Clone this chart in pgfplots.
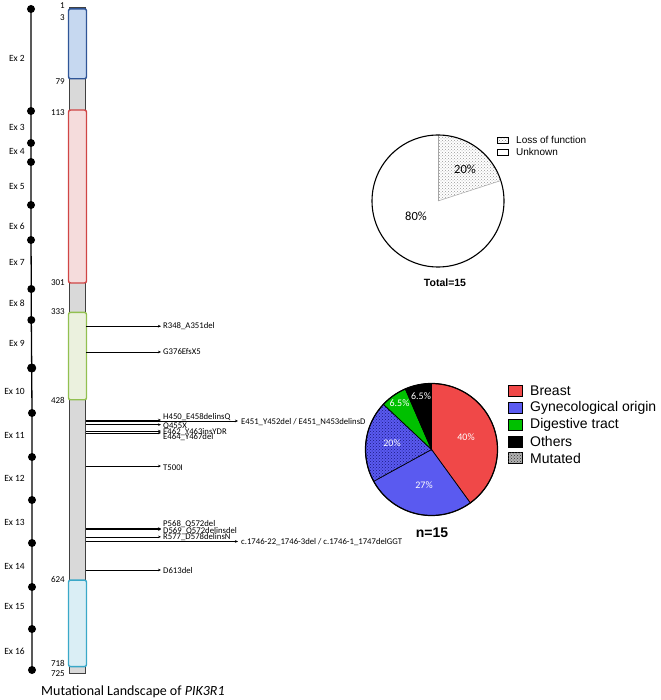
\documentclass[border=0pt]{standalone}
\usepackage{pgfplots}
\pgfplotsset{compat=1.18}
\usepackage{pgfplotstable}
\usepackage{fontspec}
\setmainfont{Carlito}
\newfontfamily\arial{Liberation Sans}
\usetikzlibrary{patterns,arrows.meta}

\definecolor{barfill}{HTML}{D9D9D9}
\definecolor{barline}{HTML}{404040}
\definecolor{dAfill}{HTML}{C6D8F0}
\definecolor{dAline}{HTML}{2F5597}
\definecolor{dBfill}{HTML}{F5DCDC}
\definecolor{dBline}{HTML}{D04545}
\definecolor{dCfill}{HTML}{EBF1DE}
\definecolor{dCline}{HTML}{92C050}
\definecolor{dDfill}{HTML}{DAEEF5}
\definecolor{dDline}{HTML}{3AA8C8}
\definecolor{pieRed}{HTML}{F04848}
\definecolor{pieBlue}{HTML}{5A5AF0}
\definecolor{pieGreen}{HTML}{00C000}
\definecolor{dotBlue}{HTML}{1A1A80}

% exon boundaries (x, y in picture units)
\pgfplotstableread{
x y
31 9
31 111
31 143
31 162
31 205
31 240
31.3 289
31.3 320
31.7 368
32 413
32 457
32 500
32 543
32 587
32 629
32 670
}\exondots

% mutations: amino-acid position, arrow length
\pgfplotstableread{
pos len
348 75
376 75
450 75
451 152
455 75
462 75
464 75
500 75
568 75
569 75
577 75
582 152
613 75
}\mutations

\begin{document}
\begin{tikzpicture}
\path[use as bounding box] (0,0) rectangle (660pt,700pt);

% ---------- protein (amino-acid scale) ----------
\begin{axis}[at={(0,0)},anchor=south west,width=660pt,height=700pt,
  scale only axis,hide axis,xmin=0,xmax=660,ymin=-6.61,ymax=754.35,
  y dir=reverse,clip=false]
\addplot[draw=barline,fill=barfill,line width=0.8pt] coordinates {(69.3,1) (85.7,1) (85.7,725) (69.3,725)} -- cycle;
\addplot[draw=dAline,fill=dAfill,line width=1.4pt,rounded corners=2pt] coordinates {(68.5,3) (86.5,3) (86.5,79) (68.5,79)} -- cycle;
\addplot[draw=dBline,fill=dBfill,line width=1.4pt,rounded corners=2pt] coordinates {(68.5,113) (86.5,113) (86.5,301) (68.5,301)} -- cycle;
\addplot[draw=dCline,fill=dCfill,line width=1.4pt,rounded corners=2pt] coordinates {(68.5,333) (86.5,333) (86.5,428) (68.5,428)} -- cycle;
\addplot[draw=dDline,fill=dDfill,line width=1.4pt,rounded corners=2pt] coordinates {(68.5,624) (86.5,624) (86.5,718) (68.5,718)} -- cycle;
\addplot[quiver={u=\thisrow{len},v=0},-{Stealth[length=3pt,width=2.6pt]},line width=0.7pt,black]
  table[x expr=86,y=pos] {\mutations};
\end{axis}

% ---------- everything else (picture units) ----------
\begin{axis}[at={(0,0)},anchor=south west,width=660pt,height=700pt,
  scale only axis,hide axis,xmin=0,xmax=660,ymin=0,ymax=700,
  y dir=reverse,clip=false]
\addplot[black,line width=1.3pt,mark=*,mark size=3.3pt] table {\exondots};
\addplot[black,only marks,mark=*,mark size=4.3pt] coordinates {(31.7,368)};

% exon labels
\begin{scope}[every node/.style={anchor=east,inner sep=0pt,font=\fontsize{9.5}{10}\selectfont}]
\node at (axis cs:25,58) {Ex 2};
\node at (axis cs:25,127) {Ex 3};
\node at (axis cs:25,151) {Ex 4};
\node at (axis cs:25,186) {Ex 5};
\node at (axis cs:25,226) {Ex 6};
\node at (axis cs:25,262) {Ex 7};
\node at (axis cs:25,303) {Ex 8};
\node at (axis cs:25,343) {Ex 9};
\node at (axis cs:25,391) {Ex 10};
\node at (axis cs:25,435) {Ex 11};
\node at (axis cs:25,478) {Ex 12};
\node at (axis cs:25,522) {Ex 13};
\node at (axis cs:25,566) {Ex 14};
\node at (axis cs:25,606) {Ex 15};
\node at (axis cs:25,651) {Ex 16};
\end{scope}

% residue numbers
\begin{scope}[every node/.style={anchor=east,inner sep=0pt,font=\fontsize{9}{10}\selectfont}]
\node at (axis cs:65,6) {1};
\node at (axis cs:65,18) {3};
\node at (axis cs:65,82) {79};
\node at (axis cs:65,113) {113};
\node at (axis cs:65,283) {301};
\node at (axis cs:65,312) {333};
\node at (axis cs:65,400) {428};
\node at (axis cs:65,579) {624};
\node at (axis cs:65,663) {718};
\node at (axis cs:65,674) {725};
\end{scope}

% mutation labels
\begin{scope}[every node/.style={anchor=west,inner sep=0pt,font=\fontsize{8.7}{9}\selectfont}]
\node at (axis cs:163,326) {R348\_A351del};
\node at (axis cs:163,352) {G376EfsX5};
\node at (axis cs:163,416.7) {H450\_E458delinsQ};
\node at (axis cs:241,422) {E451\_Y452del / E451\_N453delinsD};
\node at (axis cs:163,426) {Q455X};
\node at (axis cs:163,432) {E462\_Y463insYDR};
\node at (axis cs:163,437.3) {E464\_Y467del};
\node at (axis cs:163,468) {T500I};
\node at (axis cs:163,524) {P568\_Q572del};
\node at (axis cs:163,530.7) {D569\_Q572delinsdel};
\node at (axis cs:163,537.3) {R577\_D578delinsN};
\node at (axis cs:241,542.5) {c.1746-22\_1746-3del / c.1746-1\_1747delGGT};
\node at (axis cs:163,570.3) {D613del};
\end{scope}

\node[anchor=west,inner sep=0pt,font=\fontsize{14}{15}\selectfont] at (axis cs:41,691.5) {Mutational Landscape of \textit{PIK3R1}};

% ---------- top pie: 20% loss of function, 80% unknown ----------
\fill[white] (axis cs:438,201) circle[radius=66pt];
\path[pattern=crosshatch dots,pattern color=gray!80] (axis cs:438,201) -- ++(90:66pt) arc[start angle=90,delta angle={-3.6*20},radius=66pt] -- cycle;
\draw[gray!70,line width=0.5pt] (axis cs:438,201) -- ++(90:66pt);
\draw[gray!70,line width=0.5pt] (axis cs:438,201) -- ++({90-3.6*20}:66pt);
\draw[black,line width=1.1pt] (axis cs:438,201) circle[radius=66pt];
\node[font=\fontsize{12.5}{13}\selectfont] at (axis cs:465,169) {20\%};
\node[font=\fontsize{12.5}{13}\selectfont] at (axis cs:416,216) {80\%};
\node[font=\arial\bfseries\fontsize{10.5}{11}\selectfont] at (axis cs:445,283) {Total=15};
\path[draw=black,line width=0.8pt,pattern=crosshatch dots,pattern color=gray] (axis cs:497,137) rectangle (axis cs:508,143);
\draw[black,line width=0.8pt,fill=white] (axis cs:497,149) rectangle (axis cs:508,155);
\node[anchor=west,inner sep=0pt,font=\arial\fontsize{10}{11}\selectfont] at (axis cs:516,140) {Loss of function};
\node[anchor=west,inner sep=0pt,font=\arial\fontsize{10}{11}\selectfont] at (axis cs:516,152) {Unknown};

% ---------- bottom pie: 40 / 27 / 20 (mutated) / 6.5 / 6.5 ----------
\filldraw[fill=pieRed,draw=black,line width=0.7pt] (axis cs:431.5,449.5) -- ++(90:66pt)
  arc[start angle=90,delta angle={-3.6*40},radius=66pt] -- cycle;
\filldraw[fill=pieBlue,draw=black,line width=0.7pt] (axis cs:431.5,449.5) -- ++({90-3.6*40}:66pt)
  arc[start angle={90-3.6*40},delta angle={-3.6*27},radius=66pt] -- cycle;
\filldraw[fill=pieBlue,draw=black,line width=0.7pt,postaction={pattern=crosshatch dots,pattern color=dotBlue}] (axis cs:431.5,449.5) -- ++({90-3.6*67}:66pt)
  arc[start angle={90-3.6*67},delta angle={-3.6*20},radius=66pt] -- cycle;
\filldraw[fill=pieGreen,draw=black,line width=0.7pt] (axis cs:431.5,449.5) -- ++({90-3.6*87}:66pt)
  arc[start angle={90-3.6*87},delta angle={-3.6*6.5},radius=66pt] -- cycle;
\filldraw[fill=black,draw=black,line width=0.7pt] (axis cs:431.5,449.5) -- ++({90-3.6*93.5}:66pt)
  arc[start angle={90-3.6*93.5},delta angle={-3.6*6.5},radius=66pt] -- cycle;
\draw[black,line width=1.2pt] (axis cs:431.5,449.5) circle[radius=66pt];
\begin{scope}[every node/.style={text=white,font=\fontsize{10}{11}\selectfont}]
\node at (axis cs:466,437) {40\%};
\node at (axis cs:424,485) {27\%};
\node at (axis cs:392,443) {20\%};
\node at (axis cs:399.5,403.5) {6.5\%};
\node at (axis cs:421,396) {6.5\%};
\end{scope}
\node[font=\arial\bfseries\fontsize{14}{15}\selectfont] at (axis cs:432,533) {n=15};

\draw[black,line width=0.9pt,fill=pieRed] (axis cs:508,385) rectangle (axis cs:522,396);
\draw[black,line width=0.9pt,fill=pieBlue] (axis cs:508,402.5) rectangle (axis cs:522,413.5);
\draw[black,line width=0.9pt,fill=pieGreen] (axis cs:508,419) rectangle (axis cs:522,430);
\draw[black,line width=0.9pt,fill=black] (axis cs:508,436) rectangle (axis cs:522,447);
\draw[black,line width=0.9pt,fill=gray!60,postaction={pattern=crosshatch dots,pattern color=black!80}] (axis cs:508,452.5) rectangle (axis cs:522,463.5);
\begin{scope}[every node/.style={anchor=west,inner sep=0pt,font=\arial\fontsize{14}{15}\selectfont}]
\node at (axis cs:530,390.5) {Breast};
\node at (axis cs:530,408) {Gynecological origin};
\node at (axis cs:530,424.5) {Digestive tract};
\node at (axis cs:530,441.5) {Others};
\node at (axis cs:530,458) {Mutated};
\end{scope}
\end{axis}
\end{tikzpicture}
\end{document}
